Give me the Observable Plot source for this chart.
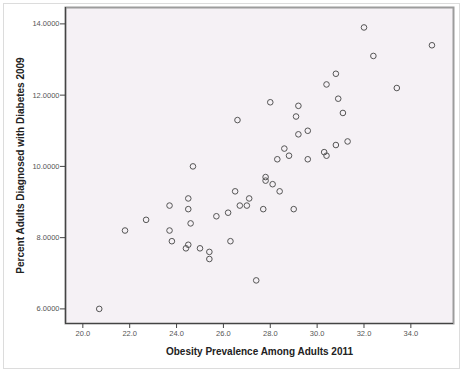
<!DOCTYPE html>
<html>
<head>
<meta charset="utf-8">
<script src="https://cdn.jsdelivr.net/npm/d3@7"></script>
<script src="https://cdn.jsdelivr.net/npm/@observablehq/plot@0.6"></script>
<style>
  html, body { margin: 0; padding: 0; background: #fff; }
  #wrap { position: relative; width: 462px; height: 371px; }
  #border { position: absolute; left: 3px; top: 3px; width: 455px; height: 364px; border: 1px solid #dcdcdc; pointer-events: none; }
  svg { font-family: "Liberation Sans", Arial, sans-serif; }
</style>
</head>
<body>
<div id="wrap"><div id="border"></div></div>
<script>
const obesity = [32.0, 34.9, 32.4, 30.8, 30.4, 33.4, 30.9, 28.0, 29.2, 29.1, 31.1, 26.6, 29.6, 29.2, 31.3, 30.8, 28.6, 30.3, 30.4, 28.8, 28.3, 29.6, 24.7, 27.8, 27.8, 28.1, 28.4, 26.5, 27.1, 24.5, 23.7, 26.7, 27.0, 24.5, 27.7, 29.0, 26.2, 25.7, 22.7, 24.6, 21.8, 23.7, 23.8, 26.3, 24.5, 24.4, 25.0, 25.4, 25.4, 27.4, 20.7];
const diabetes = [13.9, 13.4, 13.1, 12.6, 12.3, 12.2, 11.9, 11.8, 11.7, 11.4, 11.5, 11.3, 11.0, 10.9, 10.7, 10.6, 10.5, 10.4, 10.3, 10.3, 10.2, 10.2, 10.0, 9.7, 9.6, 9.5, 9.3, 9.3, 9.1, 9.1, 8.9, 8.9, 8.9, 8.8, 8.8, 8.8, 8.7, 8.6, 8.5, 8.4, 8.2, 8.2, 7.9, 7.9, 7.8, 7.7, 7.7, 7.6, 7.4, 6.8, 6.0];
const xTicks = [20, 22, 24, 26, 28, 30, 32, 34];
const yTicks = [6, 8, 10, 12, 14];
const xTitle = "Obesity Prevalence Among Adults 2011";
const yTitle = "Percent Adults Diagnosed with Diabetes 2009";

const data = obesity.map((x, i) => ({x, y: diabetes[i]}));
const xDomain = [19.26, 35.82];
const yDomain = [5.59, 14.46];

const chart = Plot.plot({
  width: 462,
  height: 371,
  marginLeft: 65,
  marginRight: 9,
  marginTop: 7,
  marginBottom: 48,
  style: {background: "transparent", fontFamily: "Liberation Sans, Arial, sans-serif"},
  x: {domain: xDomain},
  y: {domain: yDomain},
  marks: [
    Plot.frame({fill: "#f5f1f5", stroke: "#9c9c9c", strokeWidth: 2}),
    Plot.ruleX([xDomain[0]], {stroke: "#444", strokeWidth: 1.2}),
    Plot.ruleY([yDomain[0]], {stroke: "#444", strokeWidth: 1.2}),
    Plot.axisX({ticks: xTicks, tickFormat: d => d.toFixed(1), tickSize: 5, tickPadding: 2, label: null, fontSize: 7.5, fill: "#555", stroke: "#444"}),
    Plot.axisY({ticks: yTicks, tickFormat: d => d.toFixed(4), tickSize: 5, tickPadding: 1, label: null, fontSize: 7.5, fill: "#555", stroke: "#444"}),
    Plot.dot(data, {x: "x", y: "y", r: 2.8, stroke: "#555", strokeWidth: 1, fill: "none"}),
    Plot.text([xTitle], {frameAnchor: "bottom", dy: 28, fontSize: 10, fontWeight: "bold", fill: "#222", textAnchor: "middle", lineAnchor: "middle"}),
    Plot.text([yTitle], {frameAnchor: "left", dx: -45, rotate: -90, fontSize: 10, fontWeight: "bold", fill: "#222", textAnchor: "middle", lineAnchor: "middle"})
  ]
});
document.getElementById("wrap").prepend(chart);
</script>
</body>
</html>
